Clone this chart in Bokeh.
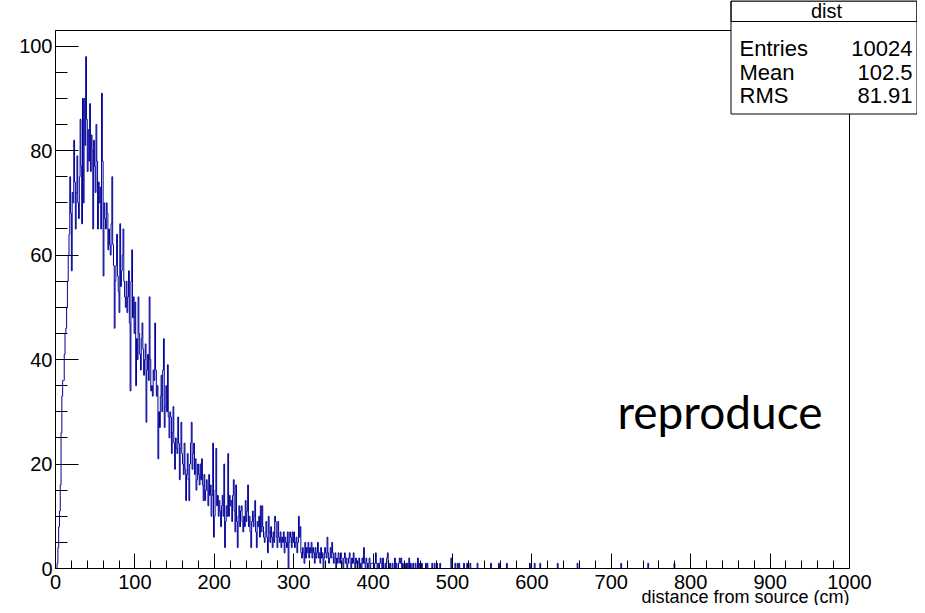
import numpy as np
from bokeh.plotting import figure
from bokeh.models import Range1d, SingleIntervalTicker, Label, BoxAnnotation
from bokeh.embed import file_html
from bokeh.resources import INLINE

# ---- data: 1000 bins of 1 cm ----
counts_000 = [0, 0, 1, 4, 8, 11, 16, 26, 33, 36,
              36, 41, 45, 46, 50, 55, 60, 64, 75, 68,
              57, 72, 70, 82, 74, 65, 72, 79, 70, 67,
              75, 86, 77, 66, 90, 70, 90, 81, 98, 86,
              76, 84, 78, 89, 76, 83, 80, 65, 82, 77,
              72, 85, 78, 65, 74, 70, 73, 65, 91, 78,
              56, 70, 67, 65, 70, 68, 61, 65, 62, 60,
              66, 75, 62, 58, 46, 55, 58, 64, 56, 53,
              49, 66, 54, 57, 60, 65, 55, 52, 50, 55,
              49, 52, 57, 47, 34, 55, 61, 48, 52, 45]
counts_100 = [51, 35, 44, 40, 52, 45, 41, 38, 44, 47,
              42, 37, 40, 43, 28, 38, 41, 36, 52, 40,
              34, 35, 33, 38, 36, 47, 38, 33, 35, 21,
              30, 27, 33, 37, 30, 38, 44, 27, 31, 35,
              30, 39, 29, 25, 30, 29, 22, 26, 31, 24,
              19, 25, 23, 22, 29, 24, 17, 23, 28, 22,
              20, 18, 24, 19, 13, 18, 22, 17, 13, 20,
              24, 28, 19, 22, 24, 18, 21, 15, 17, 20,
              18, 16, 20, 17, 21, 16, 13, 18, 13, 15,
              17, 15, 12, 18, 14, 16, 10, 14, 24, 6]
counts_200 = [10, 15, 23, 12, 14, 10, 13, 11, 8, 12,
              14, 10, 20, 4, 9, 12, 10, 22, 10, 14,
              12, 13, 9, 14, 17, 11, 7, 16, 9, 4,
              10, 12, 8, 11, 12, 9, 7, 10, 8, 13,
              9, 11, 16, 8, 10, 7, 4, 9, 11, 8,
              10, 13, 7, 4, 9, 8, 10, 6, 12, 7,
              12, 8, 6, 5, 7, 9, 6, 3, 10, 7,
              5, 8, 6, 4, 7, 5, 10, 9, 6, 4,
              9, 6, 5, 7, 4, 6, 5, 7, 3, 6,
              5, 4, 7, 0, 5, 7, 6, 4, 7, 5]
counts_300 = [7, 4, 5, 6, 3, 5, 10, 6, 8, 3,
              2, 4, 3, 1, 5, 2, 4, 3, 5, 2,
              4, 3, 5, 2, 4, 3, 1, 4, 2, 3,
              5, 2, 3, 1, 4, 2, 3, 0, 2, 4,
              3, 2, 6, 3, 1, 2, 4, 2, 5, 3,
              1, 2, 3, 0, 2, 1, 3, 2, 1, 3,
              2, 1, 0, 2, 3, 1, 2, 0, 1, 2,
              3, 1, 0, 2, 1, 3, 1, 0, 2, 1,
              0, 1, 2, 0, 1, 0, 2, 1, 4, 1,
              0, 2, 1, 0, 1, 2, 0, 1, 1, 1]
counts_400 = [1, 0, 1, 3, 1, 0, 1, 0, 1, 2,
              1, 0, 2, 0, 0, 1, 0, 2, 3, 1,
              0, 1, 0, 0, 1, 0, 0, 2, 0, 1,
              0, 0, 1, 2, 1, 2, 0, 1, 0, 0,
              0, 1, 0, 1, 0, 2, 0, 1, 0, 0,
              1, 0, 0, 1, 0, 0, 2, 0, 1, 0,
              0, 1, 0, 0, 0, 0, 1, 0, 1, 0,
              0, 0, 0, 0, 1, 0, 0, 1, 0, 0,
              1, 0, 0, 0, 1, 0, 0, 0, 0, 0,
              0, 0, 0, 0, 0, 0, 0, 0, 2, 0]
# sparse tail beyond 500 cm: bin index and content
tail_bins = [503, 506, 508, 514, 518, 522, 531, 548, 558, 568,
             597, 603, 610, 632, 657, 712, 746, 779]
tail_counts = [1, 1, 1, 1, 1, 1, 1, 1, 1, 1,
               1, 1, 1, 1, 1, 1, 1, 1]

n_bins = 1000
x_low, x_high = 0, 1000
y_max = 103.0
stats_title = "dist"
stats_names = ["Entries", "Mean", "RMS"]
stats_values = ["10024", "102.5", "81.91"]
x_title = "distance from source (cm)"
watermark = "reproduce"

counts = np.zeros(n_bins)
for i, block in enumerate([counts_000, counts_100, counts_200, counts_300, counts_400]):
    counts[i * 100:(i + 1) * 100] = block
for b, c in zip(tail_bins, tail_counts):
    counts[b] = c

edges = np.linspace(x_low, x_high, n_bins + 1)
xs = np.repeat(edges, 2)[1:-1]
ys = np.repeat(counts, 2)

# ---- layout (pixels in the canvas) ----
W, H = 917, 605
FL, FR, FT, FB = 55, 849, 30, 568
sx = (FR - FL) / (x_high - x_low)
sy = (FB - FT) / y_max
def px2x(px):
    return x_low + (px - FL) / sx
def py2y(py):
    return (FB - py) / sy

p = figure(width=W, height=H,
           x_range=Range1d(px2x(0), px2x(W)), y_range=Range1d(py2y(H), py2y(0)),
           output_backend="svg", toolbar_location=None,
           min_border=0, min_border_left=0, min_border_right=0,
           min_border_top=0, min_border_bottom=0)
p.background_fill_color = "white"
p.border_fill_color = "white"
p.xgrid.visible = False
p.ygrid.visible = False
p.outline_line_color = None

p.xaxis.ticker = SingleIntervalTicker(interval=100, num_minor_ticks=5)
p.yaxis.ticker = SingleIntervalTicker(interval=20, num_minor_ticks=4)
p.xaxis.fixed_location = 0
p.yaxis.fixed_location = x_low
p.xaxis.bounds = (x_low, x_high)
p.yaxis.bounds = (0, y_max)
for ax in (p.xaxis[0], p.yaxis[0]):
    ax.axis_line_color = "black"
    ax.major_tick_line_color = "black"
    ax.minor_tick_line_color = "black"
    ax.major_tick_out = 0
    ax.minor_tick_out = 0
    ax.major_label_text_font = "Liberation Sans"
    ax.major_label_text_font_size = "20px"
    ax.major_label_text_color = "black"
p.xaxis.major_label_standoff = 6
p.yaxis.major_label_standoff = 3
p.xaxis.major_tick_in = 15
p.xaxis.minor_tick_in = 8
p.yaxis.major_tick_in = 23
p.yaxis.minor_tick_in = 12

p.line(xs, ys, line_color="#000099", line_width=1)

# frame border
p.add_layout(BoxAnnotation(left=x_low, right=x_high, bottom=0, top=y_max,
                           fill_color=None, fill_alpha=0.0,
                           line_color="black", line_width=1, line_alpha=1.0))

# stats box
p.add_layout(BoxAnnotation(left=px2x(730.5), right=px2x(916.5), top=py2y(0.5), bottom=py2y(113.5),
                           fill_color="white", fill_alpha=1.0,
                           line_color="black", line_width=1, line_alpha=1.0))
p.add_layout(BoxAnnotation(left=px2x(730.5), right=px2x(916.5), top=py2y(0.5), bottom=py2y(21),
                           fill_color=None, fill_alpha=0.0,
                           line_color="black", line_width=1, line_alpha=1.0))
p.add_layout(Label(x=px2x(826), y=py2y(10), text=stats_title, text_align="center",
                   text_baseline="middle", text_font="Liberation Sans", text_font_size="20px",
                   text_color="black"))
row_y = [48, 72, 95]
for name, val, ry in zip(stats_names, stats_values, row_y):
    p.add_layout(Label(x=px2x(739), y=py2y(ry), text=name, text_align="left",
                       text_baseline="middle", text_font="Liberation Sans", text_font_size="22px",
                       text_color="black"))
    p.add_layout(Label(x=px2x(912), y=py2y(ry), text=val, text_align="right",
                       text_baseline="middle", text_font="Liberation Sans", text_font_size="22px",
                       text_color="black"))

# watermark text
p.add_layout(Label(x=px2x(822), y=py2y(411), text=watermark, text_align="right",
                   text_baseline="alphabetic", text_font="Lato", text_font_size="46px",
                   text_color="black"))

# x axis title, right aligned at the end of the axis (below the tick labels)
p.add_layout(Label(x=px2x(849), y=py2y(596), text=x_title, text_align="right",
                   text_baseline="middle", text_font="Liberation Sans", text_font_size="18px",
                   text_color="black"))

open("out.html", "w").write(file_html(p, INLINE))
